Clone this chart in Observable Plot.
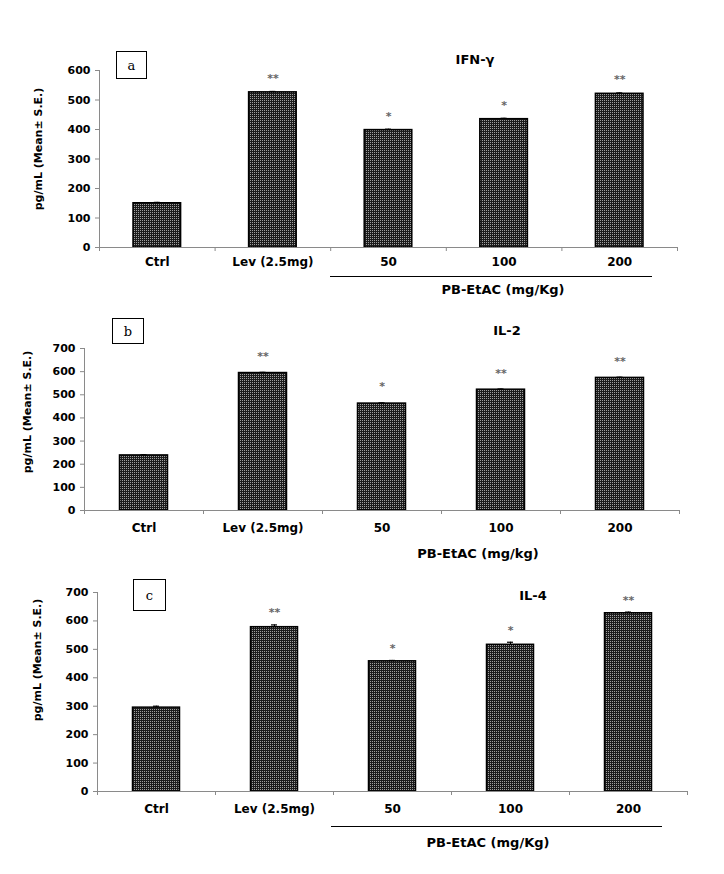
<!DOCTYPE html>
<html><head><meta charset="utf-8">
<script src="https://cdn.jsdelivr.net/npm/d3@7"></script>
<script src="https://cdn.jsdelivr.net/npm/@observablehq/plot@0.6"></script>
<style>
body{margin:0;background:#fff;}
#root{position:relative;width:724px;height:874px;font-family:"DejaVu Sans",sans-serif;color:#000;}
.panel{position:absolute;left:0;}
.t{position:absolute;font-weight:bold;white-space:nowrap;transform:translate(-50%,-50%);}
.ylab{position:absolute;font-weight:bold;font-size:11px;white-space:nowrap;transform:translate(-50%,-50%) rotate(-90deg);}
.box{position:absolute;border:1px solid #000;font-family:"DejaVu Serif",serif;font-size:13px;display:flex;align-items:center;justify-content:center;box-sizing:border-box;background:#fff;}
.brk{position:absolute;height:0;border-top:1px solid #000;}
</style></head><body>
<svg width="0" height="0" style="position:absolute">
 <defs>
  <pattern id="dots" width="2" height="2" patternUnits="userSpaceOnUse">
   <rect width="2" height="2" fill="#1c1c1c"></rect>
   <rect width="1" height="1" fill="#a0a0a0"></rect>
  </pattern>
 </defs>
</svg>
<div id="root"></div>
<script>
const categories = ["Ctrl", "Lev (2.5mg)", "50", "100", "200"];

const ifnValues = [150, 526, 398, 435, 521];
const ifnErrors = [3, 3, 3, 3, 3];
const ifnStars  = ["", "**", "*", "*", "**"];
const ifnTicks  = [0, 100, 200, 300, 400, 500, 600];

const il2Values = [238, 594, 462, 522, 573];
const il2Errors = [3, 3, 3, 3, 3];
const il2Stars  = ["", "**", "*", "**", "**"];
const il2Ticks  = [0, 100, 200, 300, 400, 500, 600, 700];

const il4Values = [295, 578, 458, 516, 627];
const il4Errors = [5, 8, 3, 9, 4];
const il4Stars  = ["", "**", "*", "*", "**"];
const il4Ticks  = [0, 100, 200, 300, 400, 500, 600, 700];

const root = document.getElementById("root");

function panel(o) {
  const data = categories.map((c, i) => ({i, c, v: o.values[i], e: o.errors[i], s: o.stars[i]}));
  const bounds = d3.range(categories.length + 1);
  const plot = Plot.plot({
    width: 724, height: o.height,
    marginLeft: o.mL, marginRight: o.mR, marginTop: o.mT, marginBottom: o.mB,
    style: {fontFamily: "DejaVu Sans", background: "transparent", overflow: "visible", color: "#000"},
    x: {type: "linear", domain: [0, categories.length], axis: null},
    y: {domain: [0, d3.max(o.ticks)], axis: null},
    marks: [
      Plot.rectY(data, {x1: "i", x2: d => d.i + 1, y: "v", insetLeft: o.inset, insetRight: o.inset,
        fill: "url(#dots)", stroke: "#000", strokeWidth: 1.5}),
      Plot.ruleX(data, {x: d => d.i + 0.5, y1: "v", y2: d => d.v + d.e, stroke: "#000"}),
      Plot.ruleY(data, {y: d => d.v + d.e, x1: d => d.i + 0.5, x2: d => d.i + 0.5, insetLeft: -3, insetRight: -3, stroke: "#000", strokeWidth: 1.2}),
      Plot.text(data, {x: d => d.i + 0.5, y: d => d.v + d.e, text: "s", dy: o.starDy, fontSize: 11, fill: "#666", fontWeight: "bold"}),
      Plot.ruleY([0], {stroke: "#8a8a8a"}),
      Plot.ruleX([0], {stroke: "#8a8a8a"}),
      Plot.ruleY(o.ticks, {y: d => d, x1: 0, x2: 0, insetLeft: -4, stroke: "#8a8a8a"}),
      Plot.ruleX(bounds, {x: d => d, y1: 0, y2: 0, insetBottom: -4, stroke: "#8a8a8a"}),
      Plot.text(o.ticks, {x: 0, y: d => d, text: d => String(d), dx: -9, textAnchor: "end", fontSize: 11, fontWeight: "bold", fill: "#000"}),
      Plot.text(data, {x: d => d.i + 0.5, y: 0, text: "c", dy: o.labDy, fontSize: 12, fontWeight: "bold", fill: "#000"})
    ]
  });
  plot.classList.add("panel");
  plot.style.top = o.top + "px";
  root.appendChild(plot);
}

panel({values: ifnValues, errors: ifnErrors, stars: ifnStars, ticks: ifnTicks,
  top: 40, height: 260, mL: 99, mR: 47, mT: 30, mB: 53, inset: 34, starDy: -13, labDy: 15});
panel({values: il2Values, errors: il2Errors, stars: il2Stars, ticks: il2Ticks,
  top: 300, height: 265, mL: 84, mR: 45, mT: 48, mB: 55, inset: 35.5, starDy: -16, labDy: 18});
panel({values: il4Values, errors: il4Errors, stars: il4Stars, ticks: il4Ticks,
  top: 565, height: 290, mL: 97, mR: 37, mT: 27, mB: 64, inset: 35.5, starDy: -12, labDy: 18});

function addDiv(cls, html, style) {
  const d = document.createElement("div");
  d.className = cls;
  d.innerHTML = html;
  Object.assign(d.style, style);
  root.appendChild(d);
}
// panel a
addDiv("box", "a", {left: "116px", top: "51px", width: "31px", height: "28px"});
addDiv("t", "IFN-γ", {left: "475px", top: "59px", fontSize: "13px"});
addDiv("ylab", "pg/mL (Mean± S.E.)", {left: "38px", top: "149px"});
addDiv("brk", "", {left: "330px", top: "276px", width: "322px"});
addDiv("t", "PB-EtAC (mg/Kg)", {left: "503px", top: "289px", fontSize: "13px"});
// panel b
addDiv("box", "b", {left: "112px", top: "318px", width: "32px", height: "26px"});
addDiv("t", "IL-2", {left: "507px", top: "330px", fontSize: "13px"});
addDiv("ylab", "pg/mL (Mean± S.E.)", {left: "27px", top: "412px"});
addDiv("t", "PB-EtAC (mg/kg)", {left: "478px", top: "553px", fontSize: "13px"});
// panel c
addDiv("box", "c", {left: "133px", top: "579px", width: "33px", height: "32px"});
addDiv("t", "IL-4", {left: "533px", top: "595px", fontSize: "13px"});
addDiv("ylab", "pg/mL (Mean± S.E.)", {left: "37px", top: "660px"});
addDiv("brk", "", {left: "331px", top: "826px", width: "331px"});
addDiv("t", "PB-EtAC (mg/Kg)", {left: "488px", top: "842px", fontSize: "13px"});
</script>
</body></html>
